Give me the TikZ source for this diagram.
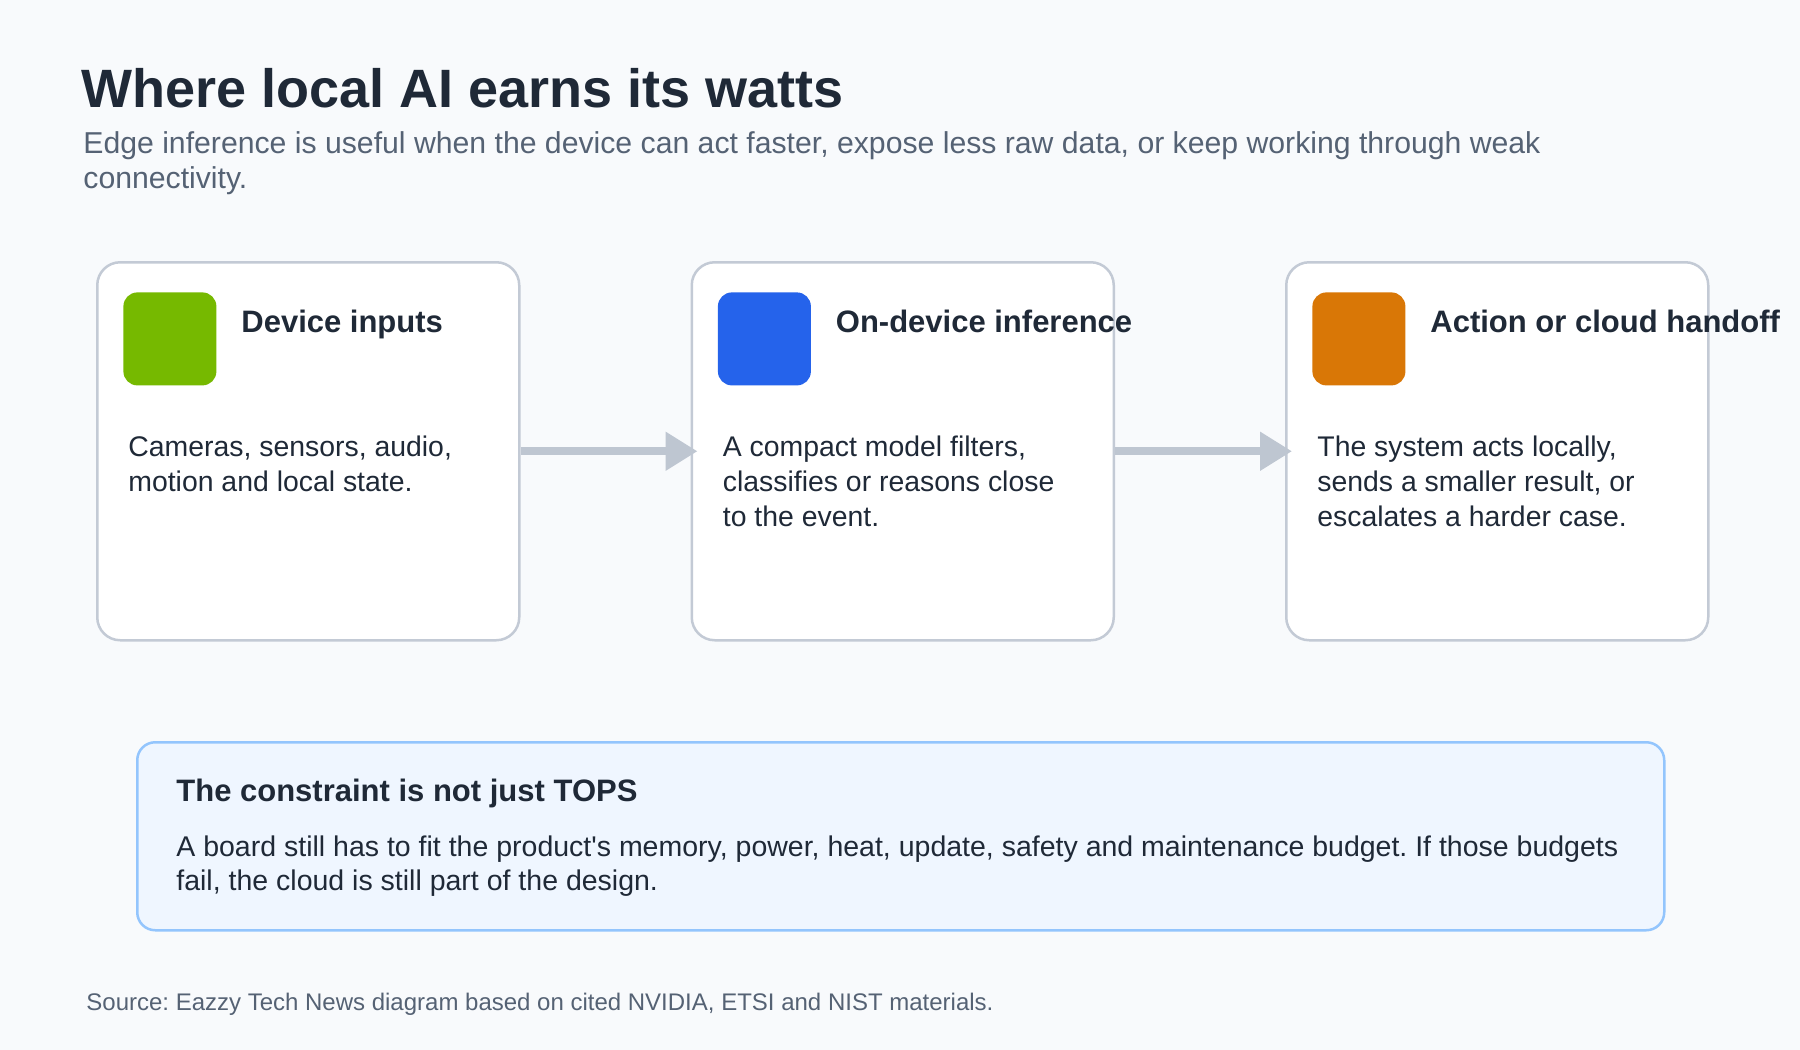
\documentclass[tikz,border=0pt]{standalone}
\usepackage{fontspec}
\setmainfont{Liberation Sans}
\usetikzlibrary{positioning, arrows.meta}
\frenchspacing

\definecolor{pagebg}{HTML}{F8FAFC}
\definecolor{ink}{HTML}{1F2937}
\definecolor{muted}{HTML}{556274}
\definecolor{cardline}{HTML}{C3CAD5}
\definecolor{flowgray}{HTML}{BEC6D1}
\definecolor{nvgreen}{HTML}{76B900}
\definecolor{chipblue}{HTML}{2563EB}
\definecolor{amber}{HTML}{D97706}
\definecolor{notefill}{HTML}{EFF6FF}
\definecolor{noteline}{HTML}{93C5FD}

% lines stacked from the first baseline down
\newcommand{\textlines}[1]{\begin{tabular}[t]{@{}l@{}}#1\end{tabular}}

\begin{document}
\begin{tikzpicture}[
x=0.5pt, y=-0.5pt,
node distance=85pt,
card/.style={draw=cardline, line width=1.25pt, fill=white, rounded corners=11.5pt, minimum width=211pt, minimum height=189pt, inner sep=0pt, anchor=north west},
icon/.style={rounded corners=7pt, minimum size=46.5pt, inner sep=0pt},
heading/.style={anchor=base west, inner sep=0pt, text=ink, font=\fontsize{15.5}{18}\selectfont\bfseries},
body/.style={anchor=base west, inner sep=0pt, text=ink, font=\fontsize{14.2}{17.5}\selectfont},
flow/.style={draw=flowgray, line width=4pt, -{Triangle[length=16pt,width=18.5pt]}}
]
\fill[pagebg] (0,0) rectangle (1800,1050);
\useasboundingbox (0,0) rectangle (1800,1050);

% Title
\node (title) [anchor=base west, inner sep=0pt, text=ink, font=\fontsize{27}{32}\selectfont\bfseries] at (81,107) {Where local AI earns its watts};
\node (subtitle) [anchor=base west, inner sep=0pt, text=muted, font=\fontsize{15.1}{17.8}\selectfont] at (83,153) {\textlines{Edge inference is useful when the device can act faster, expose less raw data, or keep working through weak\\connectivity.}};

% Cards
\node (inputs) [card] at (96,261) {};
\node (infer) [card, right=of inputs] {};
\node (handoff) [card, right=of infer] {};

\node (inputsicon) [icon, fill=nvgreen, below right=15.5pt and 13.5pt of inputs.north west] {};
\node (infericon) [icon, fill=chipblue, below right=15.5pt and 13.5pt of infer.north west] {};
\node (handofficon) [icon, fill=amber, below right=15.5pt and 13.5pt of handoff.north west] {};

\node (inputshead) [heading] at ([shift={(145,71)}]inputs.north west) {Device inputs};
\node (inferhead) [heading] at ([shift={(145,71)}]infer.north west) {On-device inference};
\node (handoffhead) [heading] at ([shift={(145,71)}]handoff.north west) {Action or cloud handoff};

\node (inputstext) [body] at ([shift={(32,195)}]inputs.north west) {\textlines{Cameras, sensors, audio,\\motion and local state.}};
\node (infertext) [body] at ([shift={(32,195)}]infer.north west) {\textlines{A compact model filters,\\classifies or reasons close\\to the event.}};
\node (handofftext) [body] at ([shift={(32,195)}]handoff.north west) {\textlines{The system acts locally,\\sends a smaller result, or\\escalates a harder case.}};

% Arrows
\draw[flow] (inputs.east) -- ([xshift=3.5pt]infer.west);
\draw[flow] (infer.east) -- ([xshift=3.5pt]handoff.west);

% Note
\node (note) [draw=noteline, line width=1.25pt, fill=notefill, rounded corners=9pt, minimum width=763.5pt, minimum height=94pt, inner sep=0pt, anchor=north west] at (136,741) {};
\node (notehead) [heading] at ([shift={(40,60)}]note.north west) {The constraint is not just TOPS};
\node (notetext) [body, font=\fontsize{14.25}{17}\selectfont] at ([shift={(40,115)}]note.north west) {\textlines{A board still has to fit the product\textquotesingle s memory, power, heat, update, safety and maintenance budget. If those budgets\\fail, the cloud is still part of the design.}};

% Source
\node (source) [anchor=base west, inner sep=0pt, text=muted, font=\fontsize{12}{14}\selectfont] at (86,1010) {Source: Eazzy Tech News diagram based on cited NVIDIA, ETSI and NIST materials.};
\end{tikzpicture}
\end{document}
